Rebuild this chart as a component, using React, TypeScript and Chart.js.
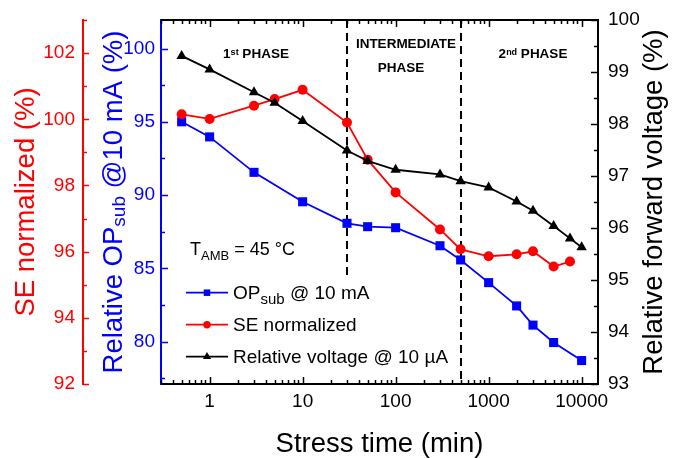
import { useEffect, useRef } from 'react';
import { Chart, registerables } from 'chart.js';

Chart.register(...registerables);

const FONT = '"Liberation Sans", Arial, Helvetica, sans-serif';

// Stress time (min) and values for each series
const OP_TIME = [0.5, 1, 3, 10, 30, 50, 100, 300, 500, 1000, 2000, 3000, 5000, 10000];
const OP_VALUES = [95.0, 93.97, 91.55, 89.54, 88.07, 87.84, 87.77, 86.54, 85.57, 84.02, 82.43, 81.12, 79.93, 78.7];

const SE_TIME = [0.5, 1, 3, 5, 10, 30, 50, 100, 300, 500, 1000, 2000, 3000, 5000, 7500];
const SE_VALUES = [100.15, 100.01, 100.41, 100.61, 100.89, 99.9, 98.78, 97.79, 96.67, 96.07, 95.86, 95.92, 96.01, 95.55, 95.7];

const V_TIME = [0.5, 1, 3, 5, 10, 30, 50, 100, 300, 500, 1000, 2000, 3000, 5000, 7500, 10000];
const V_VALUES = [99.31, 99.05, 98.61, 98.41, 98.06, 97.49, 97.29, 97.12, 97.03, 96.9, 96.78, 96.51, 96.33, 96.04, 95.8, 95.63];

// Axis tick labels
const X_TICKS = [1, 10, 100, 1000, 10000];
const OP_TICKS = [80, 85, 90, 95, 100];
const SE_TICKS = [92, 94, 96, 98, 100, 102];
const V_TICKS = [93, 94, 95, 96, 97, 98, 99, 100];

// Stress times separating the degradation phases
const PHASE_BOUNDS = [30, 500];

const BLUE = '#0000ff';
const RED = '#ff0000';
const BLACK = '#000000';

type Run = { t: string; size: number; bold?: boolean; dy?: number };

function fontOf(r: Run) {
  return `${r.bold ? 'bold ' : ''}${r.size}px ${FONT}`;
}

function drawRuns(ctx: CanvasRenderingContext2D, runs: Run[], x: number, y: number, align: 'left' | 'center') {
  const widths = runs.map((r) => {
    ctx.font = fontOf(r);
    return ctx.measureText(r.t).width;
  });
  const total = widths.reduce((a, b) => a + b, 0);
  let cx = align === 'center' ? x - total / 2 : x;
  ctx.textAlign = 'left';
  ctx.textBaseline = 'alphabetic';
  runs.forEach((r, i) => {
    ctx.font = fontOf(r);
    ctx.fillText(r.t, cx, y + (r.dy || 0));
    cx += widths[i];
  });
}

function drawRotated(ctx: CanvasRenderingContext2D, runs: Run[], baseX: number, cy: number, color: string) {
  ctx.save();
  ctx.translate(baseX, cy);
  ctx.rotate(-Math.PI / 2);
  ctx.fillStyle = color;
  drawRuns(ctx, runs, 0, 0, 'center');
  ctx.restore();
}

function drawMarker(ctx: CanvasRenderingContext2D, style: string, x: number, y: number, r: number, color: string) {
  ctx.fillStyle = color;
  ctx.beginPath();
  if (style === 'rect') {
    const s = r * Math.SQRT1_2;
    ctx.rect(x - s, y - s, 2 * s, 2 * s);
  } else if (style === 'circle') {
    ctx.arc(x, y, r, 0, Math.PI * 2);
  } else {
    const a = (2 * Math.PI) / 3;
    ctx.moveTo(x, y - r);
    ctx.lineTo(x + Math.sin(a) * r, y - Math.cos(a) * r);
    ctx.lineTo(x + Math.sin(2 * a) * r, y - Math.cos(2 * a) * r);
    ctx.closePath();
  }
  ctx.fill();
}

const overlay = {
  id: 'overlay',
  beforeDatasetsDraw(chart: any) {
    const { ctx, chartArea: ca, scales } = chart;
    ctx.save();
    ctx.strokeStyle = BLACK;
    ctx.lineWidth = 2;
    ctx.setLineDash([8, 5]);
    // the first boundary stops above the legend
    const ends = [ca.top + 257, ca.bottom];
    PHASE_BOUNDS.forEach((t, i) => {
      const px = Math.round(scales.x.getPixelForValue(t));
      ctx.beginPath();
      ctx.moveTo(px, ca.top);
      ctx.lineTo(px, ends[i]);
      ctx.stroke();
    });
    ctx.restore();
  },
  afterDraw(chart: any) {
    const { ctx, chartArea: ca, scales } = chart;
    const { x, ySE, yOP, yV } = scales;
    const midY = (ca.top + ca.bottom) / 2;
    ctx.save();

    // top frame line
    ctx.strokeStyle = BLACK;
    ctx.lineWidth = 2;
    ctx.beginPath();
    ctx.moveTo(ca.left, ca.top);
    ctx.lineTo(ca.right, ca.top);
    ctx.stroke();

    // inward tick marks
    ctx.lineWidth = 1.5;
    const seg = (x1: number, y1: number, x2: number, y2: number) => {
      ctx.beginPath();
      ctx.moveTo(x1, y1);
      ctx.lineTo(x2, y2);
      ctx.stroke();
    };
    ctx.strokeStyle = BLACK;
    for (let e = -1; e <= 4; e++) {
      for (let k = 1; k <= 9; k++) {
        const v = k * Math.pow(10, e);
        if (v < x.min || v > x.max) continue;
        const len = k === 1 ? 7 : 4;
        const px = Math.round(x.getPixelForValue(v)) + 0.5;
        seg(px, ca.bottom, px, ca.bottom - len);
        seg(px, ca.top, px, ca.top + len);
      }
    }
    for (let v = 93; v <= 100; v += 0.5) {
      const py = Math.round(yV.getPixelForValue(v)) + 0.5;
      seg(ca.right, py, ca.right - (v % 1 === 0 ? 7 : 4), py);
    }
    ctx.strokeStyle = BLUE;
    for (let v = 77.5; v <= 100; v += 2.5) {
      const py = Math.round(yOP.getPixelForValue(v)) + 0.5;
      seg(ca.left, py, ca.left + (v % 5 === 0 ? 7 : 4), py);
    }
    ctx.strokeStyle = RED;
    for (let v = 92; v <= 103; v += 1) {
      const py = Math.round(ySE.getPixelForValue(v)) + 0.5;
      seg(ySE.right, py, ySE.right + (v % 2 === 0 ? 6 : 4), py);
    }

    // axis titles
    drawRotated(ctx, [{ t: 'SE normalized (%)', size: 27.5 }], ySE.left + 33.5, midY, RED);
    drawRotated(
      ctx,
      [
        { t: 'Relative OP', size: 27.5 },
        { t: 'sub', size: 19, dy: 3 },
        { t: ' @10 mA (%)', size: 27.5 },
      ],
      yOP.left + 38.5,
      midY,
      BLUE,
    );
    drawRotated(ctx, [{ t: 'Relative forward voltage (%)', size: 27.5 }], yV.right - 21, midY, BLACK);
    ctx.fillStyle = BLACK;
    drawRuns(ctx, [{ t: 'Stress time (min)', size: 27.5 }], (ca.left + ca.right) / 2, x.bottom - 6, 'center');

    // phase labels
    drawRuns(
      ctx,
      [
        { t: '1', size: 13.5, bold: true },
        { t: 'st', size: 9, bold: true, dy: -3.5 },
        { t: ' PHASE', size: 13.5, bold: true },
      ],
      ca.left + 95,
      ca.top + 38,
      'center',
    );
    drawRuns(ctx, [{ t: 'INTERMEDIATE', size: 13.5, bold: true }], ca.left + 245, ca.top + 27.5, 'center');
    drawRuns(ctx, [{ t: 'PHASE', size: 13.5, bold: true }], ca.left + 240, ca.top + 52, 'center');
    drawRuns(
      ctx,
      [
        { t: '2', size: 13.5, bold: true },
        { t: 'nd', size: 9, bold: true, dy: -3 },
        { t: ' PHASE', size: 13.5, bold: true },
      ],
      ca.left + 372,
      ca.top + 38,
      'center',
    );

    // ambient temperature
    drawRuns(
      ctx,
      [
        { t: 'T', size: 18 },
        { t: 'AMB', size: 13, dy: 4.5 },
        { t: ' = 45 °C', size: 18 },
      ],
      ca.left + 29,
      ca.top + 235,
      'left',
    );

    // legend
    const rows: { color: string; style: string; r: number; runs: Run[] }[] = [
      {
        color: BLUE,
        style: 'rect',
        r: 4.6,
        runs: [
          { t: 'OP', size: 19 },
          { t: 'sub', size: 15, dy: 4.5 },
          { t: ' @ 10 mA', size: 19 },
        ],
      },
      { color: RED, style: 'circle', r: 3.7, runs: [{ t: 'SE normalized', size: 19 }] },
      { color: BLACK, style: 'triangle', r: 4.8, runs: [{ t: 'Relative voltage @ 10 µA', size: 19 }] },
    ];
    rows.forEach((row, i) => {
      const ry = ca.top + 272.7 + i * 32;
      ctx.strokeStyle = row.color;
      ctx.lineWidth = 1.8;
      seg(ca.left + 25, ry, ca.left + 67, ry);
      drawMarker(ctx, row.style, ca.left + 46, ry, row.r, row.color);
      ctx.fillStyle = BLACK;
      drawRuns(ctx, row.runs, ca.left + 72, ry + 6.5, 'left');
    });

    ctx.restore();
  },
};

function clearPadding(s: any) {
  s.paddingTop = 0;
  s.paddingBottom = 0;
  s.paddingLeft = 0;
  s.paddingRight = 0;
}

export default function App() {
  const canvasRef = useRef<HTMLCanvasElement>(null);

  useEffect(() => {
    const canvas = canvasRef.current;
    if (!canvas) return;
    Chart.defaults.font.family = FONT;

    const chart = new Chart(canvas, {
      type: 'line',
      data: {
        datasets: [
          {
            label: 'Relative voltage @ 10 µA',
            data: V_TIME.map((t, i) => ({ x: t, y: V_VALUES[i] })),
            yAxisID: 'yV',
            borderColor: BLACK,
            backgroundColor: BLACK,
            borderWidth: 1.8,
            pointStyle: 'triangle',
            pointRadius: 6,
            pointBorderWidth: 0,
            order: 0,
          },
          {
            label: 'SE normalized',
            data: SE_TIME.map((t, i) => ({ x: t, y: SE_VALUES[i] })),
            yAxisID: 'ySE',
            borderColor: RED,
            backgroundColor: RED,
            borderWidth: 1.8,
            pointStyle: 'circle',
            pointRadius: 5,
            pointBorderWidth: 0,
            order: 1,
          },
          {
            label: 'OPsub @ 10 mA',
            data: OP_TIME.map((t, i) => ({ x: t, y: OP_VALUES[i] })),
            yAxisID: 'yOP',
            borderColor: BLUE,
            backgroundColor: BLUE,
            borderWidth: 1.8,
            pointStyle: 'rect',
            pointRadius: 6.4,
            pointBorderWidth: 0,
            order: 2,
          },
        ],
      },
      options: {
        responsive: false,
        animation: false,
        devicePixelRatio: 1,
        layout: { padding: { top: 20, left: 0, right: 0, bottom: 0 } },
        plugins: { legend: { display: false }, tooltip: { enabled: false } },
        scales: {
          x: {
            type: 'logarithmic',
            position: 'bottom',
            min: 0.3,
            max: 15000,
            grid: { display: false, drawTicks: false },
            border: { display: true, color: BLACK, width: 2 },
            ticks: {
              color: BLACK,
              font: { size: 19 },
              padding: 6,
              autoSkip: false,
              maxRotation: 0,
              callback: (v: any) => String(v),
            },
            afterBuildTicks: (s: any) => {
              s.ticks = X_TICKS.map((v) => ({ value: v }));
            },
            afterFit: (s: any) => {
              s.height = 74;
              clearPadding(s);
            },
          },
          ySE: {
            type: 'linear',
            position: 'left',
            weight: 2,
            min: 92,
            max: 103,
            grid: { display: false, drawTicks: false },
            border: { display: true, color: RED, width: 2 },
            ticks: { color: RED, font: { size: 19 }, padding: 8 },
            afterBuildTicks: (s: any) => {
              s.ticks = SE_TICKS.map((v) => ({ value: v }));
            },
            afterFit: (s: any) => {
              s.width = 83;
              clearPadding(s);
            },
          },
          yOP: {
            type: 'linear',
            position: 'left',
            weight: 1,
            min: 77.1,
            max: 101.95,
            grid: { display: false, drawTicks: false },
            border: { display: true, color: BLUE, width: 2 },
            ticks: { color: BLUE, font: { size: 19 }, padding: 6 },
            afterBuildTicks: (s: any) => {
              s.ticks = OP_TICKS.map((v) => ({ value: v }));
            },
            afterFit: (s: any) => {
              s.width = 78;
              clearPadding(s);
            },
          },
          yV: {
            type: 'linear',
            position: 'right',
            min: 93,
            max: 100,
            grid: { display: false, drawTicks: false },
            border: { display: true, color: BLACK, width: 2 },
            ticks: { color: BLACK, font: { size: 19 }, padding: 10 },
            afterBuildTicks: (s: any) => {
              s.ticks = V_TICKS.map((v) => ({ value: v }));
            },
            afterFit: (s: any) => {
              s.width = 85;
              clearPadding(s);
            },
          },
        },
      },
      plugins: [overlay],
    } as any);

    return () => chart.destroy();
  }, []);

  return (
    <div style={{ position: 'absolute', left: 0, top: 0, width: 683, height: 458, background: '#fff' }}>
      <canvas ref={canvasRef} width={683} height={458} style={{ display: 'block' }} />
    </div>
  );
}
